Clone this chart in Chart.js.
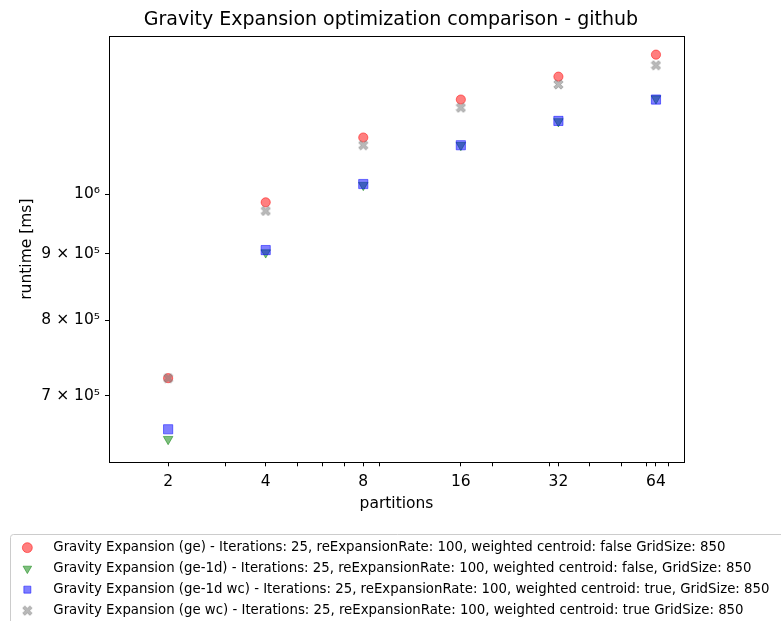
<!DOCTYPE html>
<html>
<head>
<meta charset="utf-8">
<script src="https://cdn.jsdelivr.net/npm/chart.js@4.4.1/dist/chart.umd.min.js"></script>
<style>
  html, body { margin: 0; padding: 0; background: #fff; }
  #wrap { width: 781px; height: 621px; position: relative; }
</style>
</head>
<body>
<div id="wrap"><canvas id="c" width="781" height="621"></canvas></div>
<script>
// ---- data ----
const partitions = [2, 4, 8, 16, 32, 64];
const geRuntime     = [722000, 986000, 1106000, 1183000, 1232000, 1281000];
const ge1dRuntime   = [648000, 902000, 1016500, 1091000, 1138000, 1185000];
const ge1dwcRuntime = [659500, 906000, 1018500, 1091000, 1139000, 1183000];
const gewcRuntime   = [722000, 971000, 1091000, 1166000, 1215000, 1257000];

const seriesLabels = [
  'Gravity Expansion (ge) - Iterations: 25, reExpansionRate: 100, weighted centroid: false GridSize: 850',
  'Gravity Expansion (ge-1d) - Iterations: 25, reExpansionRate: 100, weighted centroid: false, GridSize: 850',
  'Gravity Expansion (ge-1d wc) - Iterations: 25, reExpansionRate: 100, weighted centroid: true, GridSize: 850',
  'Gravity Expansion (ge wc) - Iterations: 25, reExpansionRate: 100, weighted centroid: true GridSize: 850'
];
const xMajorTicks = [2, 4, 8, 16, 32, 64];
const xMinorTicks = [3, 5, 6, 7, 9, 20, 30, 40, 50, 60, 70];
const yTicks = [700000, 800000, 900000, 1000000];
const yTickLabels = ['7 \u00d7 10\u2075', '8 \u00d7 10\u2075', '9 \u00d7 10\u2075', '10\u2076'];

// ---- helpers ----
const toPoints = (ys) => partitions.map((x, i) => ({x: x, y: ys[i]}));

function makeXMarker(size, fill, stroke) {
  const c = document.createElement('canvas');
  c.width = size; c.height = size;
  const ctx = c.getContext('2d');
  const s = size / 2, t = size * 0.2;
  ctx.translate(s, s);
  ctx.beginPath();
  const a = s - 0.8;
  const pts = [
    [-a, -a + t], [-a + t, -a], [0, -t], [a - t, -a], [a, -a + t], [t, 0],
    [a, a - t], [a - t, a], [0, t], [-a + t, a], [-a, a - t], [-t, 0]
  ];
  pts.forEach((p, i) => i ? ctx.lineTo(p[0], p[1]) : ctx.moveTo(p[0], p[1]));
  ctx.closePath();
  ctx.fillStyle = fill;
  ctx.fill();
  ctx.lineWidth = 1;
  ctx.strokeStyle = stroke;
  ctx.stroke();
  return c;
}
const xMarker = makeXMarker(11, 'rgba(128,128,128,0.55)', 'rgba(128,128,128,0.5)');

const FONT = 'DejaVu Sans';

const framePlugin = {
  id: 'frame',
  afterDraw(chart) {
    const {ctx, chartArea: a} = chart;
    ctx.save();
    ctx.strokeStyle = '#000';
    ctx.lineWidth = 1;
    ctx.strokeRect(Math.round(a.left) + 0.5, Math.round(a.top) + 0.5,
                   Math.round(a.right - a.left), Math.round(a.bottom - a.top));
    // legend frame (runs off the right and bottom of the canvas)
    const x0 = 10.5, y0 = 534.5, x1 = 800, y1 = 640, r = 3;
    ctx.strokeStyle = '#cccccc';
    ctx.beginPath();
    ctx.moveTo(x1, y0);
    ctx.lineTo(x0 + r, y0);
    ctx.arcTo(x0, y0, x0, y0 + r, r);
    ctx.lineTo(x0, y1);
    ctx.stroke();
    ctx.restore();
  }
};

const ds = (label, ys, color, style, radius, order, extra) => Object.assign({
  label: label,
  data: toPoints(ys),
  backgroundColor: color,
  borderColor: color,
  borderWidth: 1,
  pointStyle: style,
  pointRadius: radius,
  pointHoverRadius: radius,
  order: order
}, extra || {});

new Chart(document.getElementById('c'), {
  type: 'scatter',
  data: {
    datasets: [
      ds(seriesLabels[0], geRuntime, 'rgba(255,0,0,0.5)', 'circle', 4.6, 4),
      ds(seriesLabels[1], ge1dRuntime, 'rgba(0,128,0,0.5)', 'triangle', 5.5, 3, {pointRotation: 180}),
      ds(seriesLabels[2], ge1dwcRuntime, 'rgba(0,0,255,0.5)', 'rect', 6.5, 2),
      ds(seriesLabels[3], gewcRuntime, 'rgba(128,128,128,0.5)', xMarker, 5.5, 1)
    ]
  },
  options: {
    responsive: false,
    animation: false,
    events: [],
    layout: { padding: { left: 13, right: 0, top: 0, bottom: -6.3 } },
    plugins: {
      title: {
        display: true,
        text: 'Gravity Expansion optimization comparison - github  ',
        color: '#000',
        font: { family: FONT, size: 19, weight: 'normal' },
        padding: { top: 8.6, bottom: 4.6 }
      },
      legend: {
        position: 'bottom',
        align: 'start',
        labels: {
          usePointStyle: true,
          boxHeight: 7,
          padding: 7.7,
          color: '#000',
          font: { family: FONT, size: 13.3 },
          sort: (a, b) => a.datasetIndex - b.datasetIndex,
          generateLabels: (chart) => {
            const items = Chart.defaults.plugins.legend.labels.generateLabels(chart);
            items.forEach(it => { it.text = '   ' + it.text; });
            return items;
          }
        }
      },
      tooltip: { enabled: false }
    },
    scales: {
      x: {
        type: 'logarithmic',
        min: 1.314,
        max: 78.1,
        afterBuildTicks: (s) => {
          s.ticks = xMajorTicks.concat(xMinorTicks).sort((a, b) => a - b).map(v => ({value: v}));
        },
        afterFit: (s) => { s.height = 71; },
        ticks: {
          autoSkip: false,
          maxRotation: 0,
          color: '#000',
          font: { family: FONT, size: 15.5 },
          padding: 6,
          callback: (v) => xMajorTicks.includes(v) ? String(v) : ''
        },
        grid: { drawOnChartArea: false, drawTicks: true, tickLength: 4, color: '#000' },
        border: { display: true, color: '#000' },
        title: {
          display: true,
          text: 'partitions',
          color: '#000',
          font: { family: FONT, size: 15.5 },
          padding: { top: 2, bottom: 20 }
        }
      },
      y: {
        type: 'logarithmic',
        min: 622000,
        max: 1324000,
        afterBuildTicks: (s) => { s.ticks = yTicks.map(v => ({value: v})); },
        afterFit: (s) => { s.width = 96; },
        ticks: {
          autoSkip: false,
          color: '#000',
          font: { family: FONT, size: 15.5 },
          padding: 5,
          callback: (v) => { const i = yTicks.indexOf(v); return i >= 0 ? yTickLabels[i] : ''; }
        },
        grid: { drawOnChartArea: false, drawTicks: true, tickLength: 4, color: '#000' },
        border: { display: true, color: '#000' },
        title: {
          display: true,
          text: 'runtime [ms]',
          color: '#000',
          font: { family: FONT, size: 15.5 },
          padding: { top: 4.7, bottom: 0 }
        }
      },
      spacer: {
        type: 'linear',
        position: 'right',
        display: true,
        afterFit: (s) => { s.width = 97; },
        ticks: { display: false },
        grid: { display: false, drawTicks: false },
        border: { display: false },
        title: { display: false }
      }
    }
  },
  plugins: [framePlugin]
});
</script>
</body>
</html>
